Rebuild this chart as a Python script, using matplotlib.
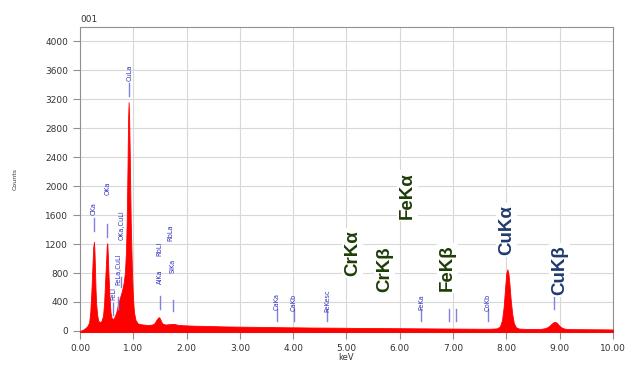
import numpy as np
import matplotlib.pyplot as plt

# spectrum (keV, counts)
energy = [0.00, 0.05, 0.10, 0.14, 0.17, 0.19, 0.21, 0.23, 0.245, 0.26, 0.27, 0.28, 0.29,
          0.30, 0.32, 0.34, 0.37, 0.40, 0.43, 0.45, 0.47, 0.49, 0.50, 0.51, 0.52, 0.53,
          0.55, 0.57, 0.59, 0.62, 0.65, 0.68, 0.70, 0.72, 0.74, 0.76, 0.78, 0.80, 0.82,
          0.84, 0.86, 0.875, 0.89, 0.90, 0.91, 0.92, 0.93, 0.94, 0.95, 0.97, 0.99, 1.01,
          1.04, 1.08, 1.12, 1.18, 1.24, 1.30, 1.36, 1.40, 1.43, 1.46, 1.48, 1.50, 1.52,
          1.55, 1.60, 1.66, 1.72, 1.76, 1.82, 1.90, 2.00, 2.15, 2.30, 2.50, 2.70, 2.90,
          3.10, 3.30, 3.50, 3.70, 3.90, 4.10, 4.30, 4.50, 4.70, 4.90, 5.10, 5.30, 5.50,
          5.70, 5.90, 6.10, 6.30, 6.50, 6.70, 6.90, 7.10, 7.30, 7.50, 7.70, 7.82, 7.88,
          7.92, 7.95, 7.98, 8.00, 8.02, 8.04, 8.06, 8.08, 8.11, 8.14, 8.18, 8.24, 8.35,
          8.50, 8.65, 8.74, 8.80, 8.85, 8.89, 8.92, 8.95, 8.99, 9.04, 9.10, 9.20, 9.40,
          9.60, 9.80, 10.00]
counts = [0, 15, 40, 70, 120, 260, 520, 880, 1150, 1230, 1080, 820, 560,
          380, 220, 140, 120, 135, 210, 380, 700, 1000, 1180, 1210, 1050, 820,
          480, 260, 180, 160, 200, 260, 330, 390, 440, 490, 540, 600, 680,
          800, 1080, 1520, 2300, 2900, 3160, 2950, 2500, 2000, 1500, 900, 480, 260,
          150, 105, 95, 88, 84, 82, 90, 110, 150, 180, 190, 170, 130,
          100, 88, 92, 96, 98, 86, 80, 76, 72, 70, 66, 62, 60,
          58, 56, 54, 52, 50, 49, 47, 46, 45, 44, 42, 41, 40,
          39, 38, 37, 36, 35, 34, 33, 32, 31, 30, 30, 35, 60,
          150, 330, 620, 800, 850, 790, 640, 450, 240, 110, 50, 32, 28,
          27, 28, 40, 65, 100, 122, 125, 110, 75, 45, 30, 25, 24,
          23, 22, 20]

# small peak markers (keV, label, label centre in counts, marker bottom/top in counts)
mk_e = [0.26, 0.51, 0.62, 0.71, 0.77, 0.92, 1.49, 1.48, 1.69, 1.74,
        3.69, 4.01, 4.64, 6.40, 6.93, 7.05, 7.65, 8.90]
mk_lab = ['CKa', 'OKa', 'FeLl', 'FeLa,CuLl', 'OKa,CuLl', 'CuLa', 'AlKa', 'RbLl', 'RbLa', 'SiKa',
          'CaKa', 'CaKb', 'FeKesc', 'FeKa', '', '', 'CoKb', '']
mk_ly = [1690, 1970, 520, 850, 1460, 3560, 750, 1130, 1350, 900,
         400, 400, 420, 400, 0, 0, 400, 0]
mk_lo = [1380, 1300, 220, 300, 600, 3250, 300, 0, 0, 280,
         140, 140, 140, 140, 140, 140, 140, 300]
mk_hi = [1560, 1480, 380, 470, 740, 3420, 480, 0, 0, 430,
         300, 300, 300, 300, 300, 300, 300, 470]

# large line labels
big_e = [5.12, 5.72, 6.14, 6.89, 8.01, 9.00]
big_y = [1080, 850, 1870, 870, 1400, 840]
big_lab = ['CrKα', 'CrKβ', 'FeKα', 'FeKβ', 'CuKα', 'CuKβ']
big_col = ['#1e3d06', '#1e3d06', '#1e3d06', '#1e3d06', '#1f3a6e', '#1f3a6e']

fig = plt.figure(figsize=(6.26, 3.65), dpi=100)
ax = fig.add_axes([0.128, 0.0904, 0.851, 0.836])

ax.fill_between(energy, counts, -15, color='#ff0000', lw=0.6, zorder=3)

for e, lab, ly, lo, hi in zip(mk_e, mk_lab, mk_ly, mk_lo, mk_hi):
    ax.plot([e, e], [lo, hi], color='#8080dd', lw=1.0, zorder=4)
    if lab:
        ax.text(e, ly, lab, rotation=90, ha='center', va='center', fontsize=4.8,
                color='#3030c0', zorder=5)

for e, y, lab, c in zip(big_e, big_y, big_lab, big_col):
    ax.text(e, y, lab, rotation=90, ha='center', va='center', fontsize=13.5,
            fontweight='bold', color=c, family='Liberation Sans', zorder=5,
            bbox=dict(facecolor='white', edgecolor='none', pad=1.5))

ax.set_xlim(0, 10)
ax.set_ylim(-15, 4200)
ax.set_xticks(np.arange(0, 11, 1))
ax.set_xticklabels(['%.2f' % v for v in range(11)])
ax.set_yticks(np.arange(0, 4001, 400))
ax.grid(True, color='#d8d8d8', lw=0.8, zorder=0)
ax.set_axisbelow(True)
for s in ax.spines.values():
    s.set_color('#909090')
ax.tick_params(direction='out', length=5, width=0.8, colors='#909090',
               labelcolor='#333333', labelsize=6.5)

fig.text(0.553, 0.008, 'keV', fontsize=6, color='#333333', ha='center', va='bottom')
ax.set_ylabel('Counts', fontsize=4.5, color='#333333', labelpad=20)
ax.text(0.0, 1.008, '001', transform=ax.transAxes, fontsize=6.5, color='#333333',
        ha='left', va='bottom')

fig.savefig('out.png', dpi=100)
